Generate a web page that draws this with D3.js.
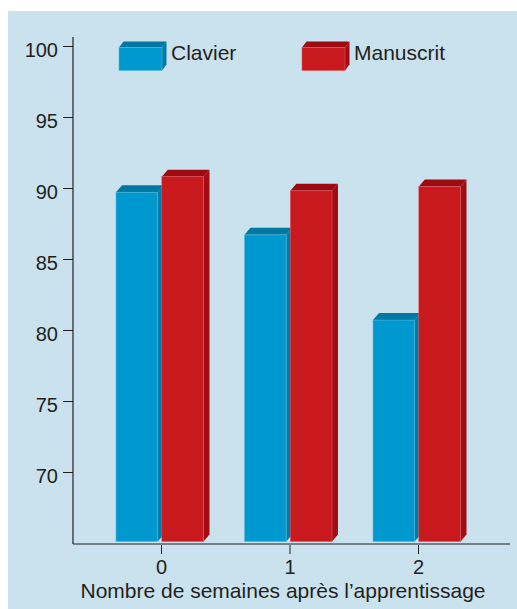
<!DOCTYPE html>
<html>
<head>
<meta charset="utf-8">
<script src="https://cdn.jsdelivr.net/npm/d3@7"></script>
<style>
  body { margin: 0; background: #fff; }
  text { font-family: "Liberation Sans", Arial, Helvetica, sans-serif; fill: #231f20; }
</style>
</head>
<body>
<svg id="chart" width="517" height="609"></svg>
<script>
// data
const weeks = ["0", "1", "2"];
const series = ["Clavier", "Manuscrit"];
const clavier = [89.7, 86.7, 80.7];
const manuscrit = [90.8, 89.8, 90.1];
const yTicks = [70, 75, 80, 85, 90, 95, 100];

const colors = {
    Clavier:   { front: "#0099cf", top: "#0078a2", side: "#007ba6", edge: "#4fb8de" },
    Manuscrit: { front: "#c8191f", top: "#9c0b12", side: "#a10d13", edge: "#e0585c" }
};

const svg = d3.select("#chart");

// light blue panel
svg.append("rect")
   .attr("x", 8).attr("y", 11)
   .attr("width", 509).attr("height", 598)
   .attr("fill", "#cae2ed");

const y = d3.scaleLinear().domain([65, 100]).range([543, 46]);
const x = d3.scalePoint().domain(weeks).range([161, 418]);
// offsets of the two bars inside one group
const sub = d3.scaleBand().domain(series).range([-45, 42.5]).paddingInner(0.09);

const depthX = 6, depthY = 7;
const barBottom = 541.5;

const rows = weeks.map((w, i) => ({ week: w, Clavier: clavier[i], Manuscrit: manuscrit[i] }));

// bars, blue first so the red one covers its side
series.forEach(s => {
    const g = svg.append("g").attr("class", "bars " + s);
    rows.forEach(d => {
        const x0 = x(d.week) + sub(s);
        const x1 = x0 + sub.bandwidth();
        const yt = y(d[s]);
        const c = colors[s];
        // side face
        g.append("path")
         .attr("d", `M${x1},${yt} L${x1 + depthX},${yt - depthY} L${x1 + depthX},${barBottom - depthY} L${x1},${barBottom} Z`)
         .attr("fill", c.side);
        // top face
        g.append("path")
         .attr("d", `M${x0},${yt} L${x0 + depthX},${yt - depthY} L${x1 + depthX},${yt - depthY} L${x1},${yt} Z`)
         .attr("fill", c.top);
        // front face
        g.append("rect")
         .attr("x", x0).attr("y", yt)
         .attr("width", x1 - x0).attr("height", barBottom - yt)
         .attr("fill", c.front)
         .attr("stroke", c.edge).attr("stroke-width", 0.6);
    });
});

// y axis
const yAxis = svg.append("g")
    .attr("transform", "translate(73,0)")
    .call(d3.axisLeft(y).tickValues(yTicks).tickSize(10).tickPadding(5));
yAxis.select(".domain").remove();
yAxis.selectAll("line").attr("stroke", "#231f20");
yAxis.selectAll("text")
     .attr("font-size", 20)
     .attr("dy", "0.5em")
     .style("font-family", "'Liberation Sans', Arial, sans-serif")
     .attr("fill", "#231f20");
svg.append("line")
   .attr("x1", 73).attr("x2", 73)
   .attr("y1", y(100) - 9).attr("y2", 544)
   .attr("stroke", "#231f20").attr("stroke-width", 1.2);

// x axis
const xAxis = svg.append("g")
    .attr("transform", "translate(0,545)")
    .call(d3.axisBottom(x).tickSize(9).tickPadding(6));
xAxis.select(".domain").remove();
xAxis.selectAll("line").attr("stroke", "#231f20");
xAxis.selectAll("text")
     .attr("font-size", 20)
     .style("font-family", "'Liberation Sans', Arial, sans-serif")
     .attr("fill", "#231f20");
svg.append("line")
   .attr("x1", 73).attr("x2", 510)
   .attr("y1", 544).attr("y2", 544)
   .attr("stroke", "#231f20").attr("stroke-width", 1.2);

svg.append("text")
   .attr("x", 283).attr("y", 598)
   .attr("text-anchor", "middle")
   .attr("font-size", 21)
   .text("Nombre de semaines après l’apprentissage");

// legend with little 3d boxes
const legendX = d3.scaleOrdinal().domain(series).range([119, 302]);
series.forEach(s => {
    const c = colors[s];
    const lx = legendX(s), lw = 43, ly = 47.5, lh = 23;
    const lg = svg.append("g").attr("class", "legend");
    lg.append("path")
      .attr("d", `M${lx + lw},${ly} L${lx + lw + 4.5},${ly - 6} L${lx + lw + 4.5},${ly + lh - 6} L${lx + lw},${ly + lh} Z`)
      .attr("fill", c.side);
    lg.append("path")
      .attr("d", `M${lx},${ly} L${lx + 4.5},${ly - 6} L${lx + lw + 4.5},${ly - 6} L${lx + lw},${ly} Z`)
      .attr("fill", c.top);
    lg.append("rect")
      .attr("x", lx).attr("y", ly).attr("width", lw).attr("height", lh)
      .attr("fill", c.front)
      .attr("stroke", c.edge).attr("stroke-width", 0.6);
    lg.append("text")
      .attr("x", lx + lw + 9).attr("y", 60)
      .attr("font-size", 21)
      .text(s);
});
</script>
</body>
</html>
